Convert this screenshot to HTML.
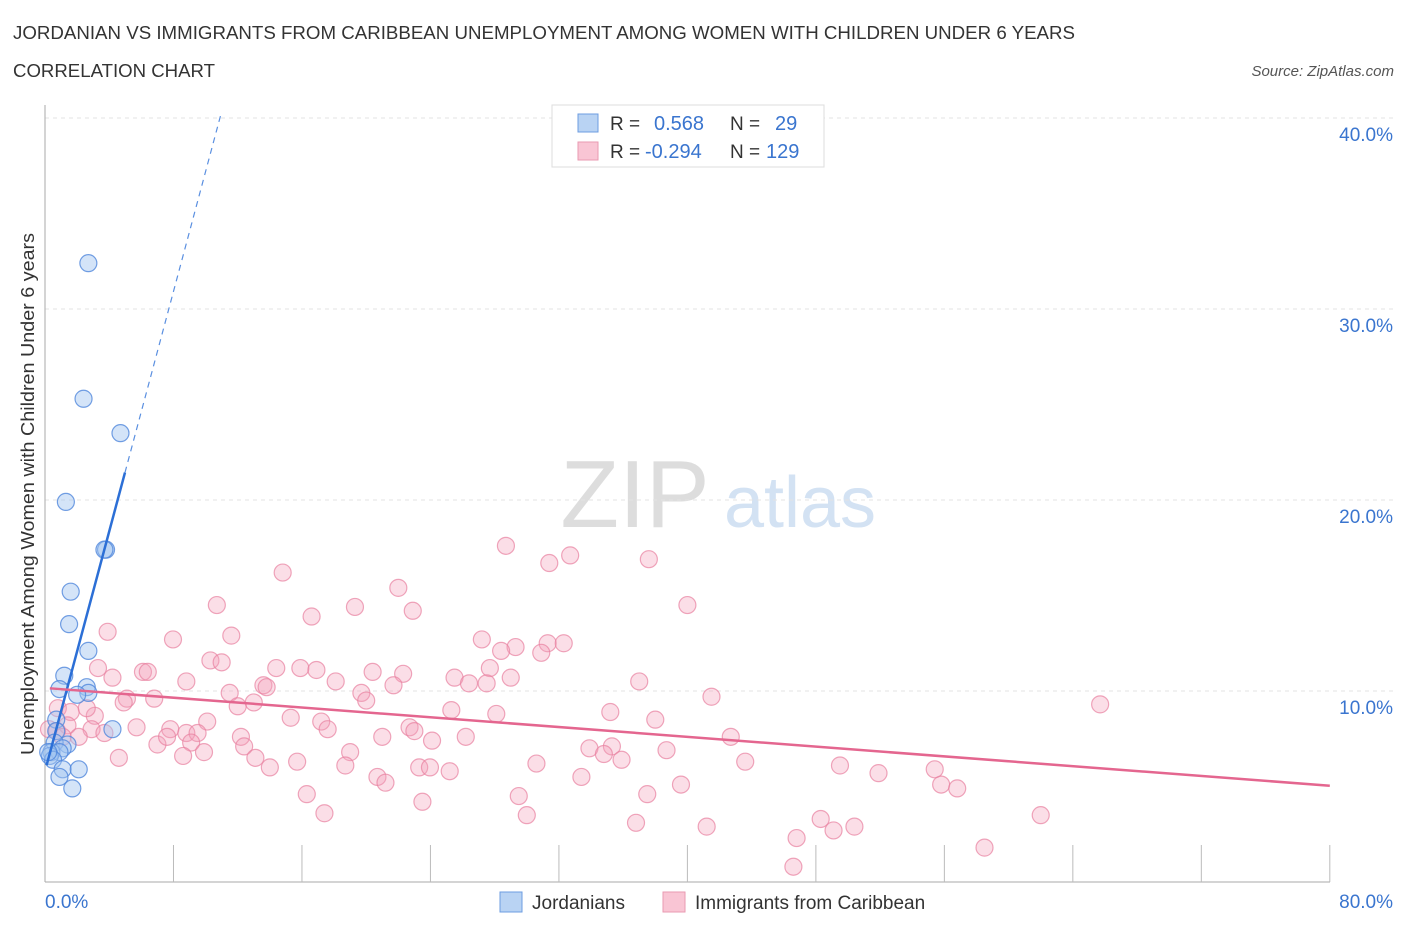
<!DOCTYPE html>
<html><head><meta charset="utf-8">
<style>
body{margin:0;background:#fff;font-family:"Liberation Sans",sans-serif;}
svg text{font-family:"Liberation Sans",sans-serif;}
</style></head>
<body>
<svg id="chart" width="1406" height="930" viewBox="0 0 1406 930" xmlns="http://www.w3.org/2000/svg">
<text x="13" y="39" font-size="18" fill="#333" textLength="1062" lengthAdjust="spacingAndGlyphs">JORDANIAN VS IMMIGRANTS FROM CARIBBEAN UNEMPLOYMENT AMONG WOMEN WITH CHILDREN UNDER 6 YEARS</text>
<text x="13" y="77" font-size="18" fill="#333" textLength="202" lengthAdjust="spacingAndGlyphs">CORRELATION CHART</text>
<text x="1394" y="76" font-size="15" fill="#555" font-style="italic" text-anchor="end">Source: ZipAtlas.com</text>
<g>
<text x="635" y="527" font-size="96" fill="#ddd" font-family="Liberation Serif" text-anchor="middle">ZIP</text>
<text x="800" y="527" font-size="72" fill="#d3e2f3" text-anchor="middle">atlas</text>
</g>
<g id="grid"></g>
<g id="axes"></g>
<g id="pink"></g>
<g id="blue"></g>
<g id="lines"></g>
<text transform="translate(34,494) rotate(-90)" font-size="18" fill="#333" text-anchor="middle" textLength="522" lengthAdjust="spacingAndGlyphs">Unemployment Among Women with Children Under 6 years</text>
<g>
<rect x="552" y="105" width="272" height="62" fill="#fff" stroke="#ddd"/>
<rect x="578" y="114" width="20" height="18" fill="#b9d3f3" stroke="#6d9de0"/>
<rect x="578" y="142" width="20" height="18" fill="#f9c5d4" stroke="#e99ab2"/>
<text x="610" y="130" font-size="19" fill="#333">R =</text><text x="654" y="130" font-size="20" fill="#3a75cf">0.568</text>
<text x="730" y="130" font-size="19" fill="#333">N =</text><text x="775" y="130" font-size="20" fill="#3a75cf">29</text>
<text x="610" y="158" font-size="19" fill="#333">R =</text><text x="645" y="158" font-size="20" fill="#3a75cf">-0.294</text>
<text x="730" y="158" font-size="19" fill="#333">N =</text><text x="766" y="158" font-size="20" fill="#3a75cf">129</text>
</g>
<g>
<rect x="500" y="892" width="22" height="20" fill="#b9d3f3" stroke="#6d9de0"/>
<text x="532" y="909" font-size="19" fill="#333">Jordanians</text>
<rect x="663" y="892" width="22" height="20" fill="#f9c5d4" stroke="#e99ab2"/>
<text x="695" y="909" font-size="19" fill="#333">Immigrants from Caribbean</text>
</g>
</svg>
<script>
const yTicks=[10,20,30,40];
const xTickLabels=["0.0%","80.0%"];
const blueX=[2.7,2.4,4.7,1.3,3.8,3.7,1.6,1.5,2.7,1.2,0.9,2.6,2.7,2.0,0.7,4.2,0.7,1.4,0.6,1.1,0.4,0.9,0.3,0.5,1.1,2.1,0.9,1.7,0.2];
const blueY=[32.4,25.3,23.5,19.9,17.4,17.4,15.2,13.5,12.1,10.8,10.1,10.2,9.9,9.8,8.5,8.0,7.9,7.2,7.3,7.0,6.8,6.8,6.6,6.4,5.9,5.9,5.5,4.9,6.8];
const pinkX=[28.7,32.7,31.4,37.6,14.8,22.0,10.7,19.3,22.9,16.6,40.0,3.9,7.97,11.6,27.2,29.3,31.3,32.3,28.4,30.9,10.3,11.0,3.3,6.1,14.4,15.9,16.9,27.7,6.4,20.4,22.3,4.2,8.8,18.1,25.5,26.4,27.5,29.0,37.0,13.6,11.5,5.1,6.8,13.8,19.7,21.7,4.9,13.0,20.0,41.5,12.0,65.7,0.8,1.6,3.1,2.6,25.3,35.2,15.3,10.1,17.2,28.1,38.0,1.4,2.9,5.7,7.8,8.8,17.6,22.7,23.0,3.7,0.25,0.75,1.1,2.1,9.5,12.2,24.1,26.2,42.7,21.0,9.1,7.0,12.4,19.0,7.6,9.9,38.7,33.9,35.3,34.8,8.6,4.6,13.1,15.7,18.7,23.3,30.6,23.97,43.6,49.5,14.0,35.9,25.2,33.4,51.9,55.4,20.7,21.2,39.6,55.8,56.8,16.3,29.5,37.5,23.5,17.4,30.0,62.0,36.8,41.2,48.3,50.4,49.1,46.8,58.5,46.6];
const pinkY=[17.6,17.1,16.7,16.9,16.2,15.4,14.5,14.4,14.2,13.9,14.5,13.1,12.7,12.9,12.7,12.3,12.5,12.5,12.1,12.0,11.6,11.5,11.2,11.0,11.2,11.2,11.1,11.2,11.0,11.0,10.9,10.7,10.5,10.5,10.7,10.4,10.4,10.7,10.5,10.3,9.9,9.6,9.6,10.2,9.9,10.3,9.4,9.4,9.5,9.7,9.2,9.3,9.1,8.9,8.7,9.1,9.0,8.9,8.6,8.4,8.4,8.8,8.5,8.2,8.0,8.1,8.0,7.8,8.0,8.1,7.9,7.8,8.0,7.9,7.6,7.6,7.8,7.6,7.4,7.6,7.6,7.6,7.3,7.2,7.1,6.8,7.6,6.8,6.9,7.0,7.1,6.7,6.6,6.5,6.5,6.3,6.1,6.0,6.2,6.0,6.3,6.1,6.0,6.4,5.8,5.5,5.7,5.9,5.5,5.2,5.1,5.1,4.9,4.6,4.5,4.6,4.2,3.6,3.5,3.5,3.1,2.9,3.3,2.9,2.7,2.3,1.8,0.8];
const blueFit=[5.8,3.14,0.1,4.98,11.0];
const pinkFit=[10.16,-0.064,0.3,80];
const NS="http://www.w3.org/2000/svg";
const X=v=>45+v*16.06, Y=v=>882-v*19.1;
function mk(t,a,p){const e=document.createElementNS(NS,t);for(const k in a)e.setAttribute(k,a[k]);p.appendChild(e);return e;}
const grid=document.getElementById('grid'),axes=document.getElementById('axes');
yTicks.forEach(t=>{
 const l=mk('line',{x1:45,x2:1394,y1:Y(t),y2:Y(t),stroke:'#e3e3e3','stroke-dasharray':'4,4'},grid);
 
 
 const tx=mk('text',{x:1393,y:Y(t)+23,'font-size':19,fill:'#3a75cf','text-anchor':'end'},axes);
 tx.textContent=t.toFixed(1)+'%';
 
 
});
mk('line',{x1:45,x2:45,y1:105,y2:882,stroke:'#aaa'},axes);
mk('line',{x1:45,x2:1330,y1:882,y2:882,stroke:'#aaa'},axes);
for(let i=1;i<=10;i++){const x=X(i*8);mk('line',{x1:x,x2:x,y1:845,y2:882,stroke:'#bbb'},axes);}
const xl0=mk('text',{x:45,y:908,'font-size':19,fill:'#3a75cf'},axes);xl0.textContent=xTickLabels[0];


const xl1=mk('text',{x:1393,y:908,'font-size':19,fill:'#3a75cf','text-anchor':'end'},axes);xl1.textContent=xTickLabels[1];


const pg=document.getElementById('pink');
pinkX.forEach((v,i)=>{const c=mk('circle',{cx:X(v),cy:Y(pinkY[i]),r:8.5,fill:'rgba(244,160,185,0.35)',stroke:'rgba(232,128,160,0.7)','stroke-width':1.2},pg);
 
 });
const bg=document.getElementById('blue');
blueX.forEach((v,i)=>{const c=mk('circle',{cx:X(v),cy:Y(blueY[i]),r:8.5,fill:'rgba(160,195,240,0.45)',stroke:'rgba(80,135,220,0.8)','stroke-width':1.2},bg);
 
 });
const lg=document.getElementById('lines');
const bf=x=>blueFit[0]+blueFit[1]*x, pf=x=>pinkFit[0]+pinkFit[1]*x;
const l1=mk('line',{x1:X(blueFit[2]),y1:Y(bf(blueFit[2])),x2:X(blueFit[3]),y2:Y(bf(blueFit[3])),stroke:'#2c6fd6','stroke-width':2.5},lg);


const l2=mk('line',{x1:X(blueFit[3]),y1:Y(bf(blueFit[3])),x2:X(blueFit[4]),y2:Y(bf(blueFit[4])),stroke:'#5a8fe0','stroke-width':1.2,'stroke-dasharray':'6,5'},lg);


const l3=mk('line',{x1:X(pinkFit[2]),y1:Y(pf(pinkFit[2])),x2:X(pinkFit[3]),y2:Y(pf(pinkFit[3])),stroke:'#e4668f','stroke-width':2.5},lg);


</script>
</body></html>
